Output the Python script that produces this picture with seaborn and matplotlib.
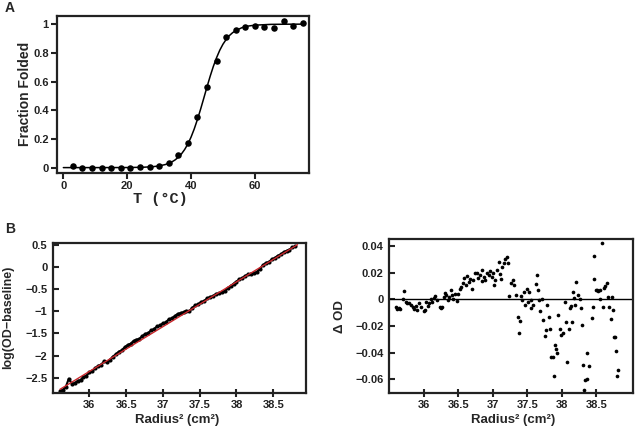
import matplotlib.pyplot as plt
import numpy as np
import pandas as pd
import seaborn as sns
from matplotlib.ticker import FuncFormatter

sns.set_style(style='ticks')
plt.rcParams['font.family'] = ['Liberation Sans', 'DejaVu Sans']
plt.rcParams['font.weight'] = 'bold'
plt.rcParams['axes.linewidth'] = 1.6
plt.rcParams['axes.edgecolor'] = '#222222'
plt.rcParams['xtick.color'] = '#222222'
plt.rcParams['ytick.color'] = '#222222'

# panel A: thermal melt
temp = [3, 6, 9, 12, 15, 18, 21, 24, 27, 30, 33, 36, 39, 42, 45, 48, 51, 54,
        57, 60, 63, 66, 69, 72, 75]
frac = [0.01, 0.0, -0.002, -0.003, -0.002, -0.002, -0.002, 0.002, 0.005, 0.01,
        0.035, 0.09, 0.17, 0.355, 0.56, 0.745, 0.91, 0.96, 0.98, 0.99, 0.98,
        0.975, 1.025, 0.99, 1.01]
fit_temp = [0, 10, 20, 25, 28, 30, 32, 34, 35, 36, 37, 38, 39, 40, 41, 42, 43,
            44, 45, 46, 47, 48, 49, 50, 51, 52, 53, 54, 56, 58, 60, 65, 70, 75]
fit_frac = [0.0, 0.0, 0.0005, 0.0025, 0.0063, 0.0117, 0.0216, 0.0397, 0.0535,
            0.0716, 0.0953, 0.126, 0.164, 0.212, 0.269, 0.335, 0.407, 0.484,
            0.562, 0.637, 0.706, 0.766, 0.818, 0.860, 0.893, 0.920, 0.940,
            0.955, 0.976, 0.987, 0.993, 0.9985, 0.9997, 1.0]

# panel B left: log(OD - baseline) vs radius^2
trace_r2 = [35.60, 35.64, 35.68, 35.72, 35.76, 35.80, 35.84, 35.88, 35.92, 35.96,
            36.00, 36.04, 36.08, 36.12, 36.16, 36.20, 36.24, 36.28, 36.32, 36.36,
            36.40, 36.44, 36.48, 36.52, 36.56, 36.60, 36.64, 36.68, 36.72, 36.76,
            36.80, 36.84, 36.88, 36.92, 36.96, 37.00, 37.04, 37.08, 37.12, 37.16,
            37.20, 37.24, 37.28, 37.32, 37.36, 37.40, 37.44, 37.48, 37.52, 37.56,
            37.60, 37.64, 37.68, 37.72, 37.76, 37.80, 37.84, 37.88, 37.92, 37.96,
            38.00, 38.04, 38.08, 38.12, 38.16, 38.20, 38.24, 38.28, 38.32, 38.36,
            38.40, 38.44, 38.48, 38.52, 38.56, 38.60, 38.64, 38.68, 38.72, 38.76,
            38.80]
trace_log = [-2.80, -2.77, -2.70, -2.52, -2.63, -2.62, -2.57, -2.55, -2.48, -2.45,
             -2.38, -2.35, -2.28, -2.23, -2.20, -2.13, -2.15, -2.09, -2.02, -1.97,
             -1.91, -1.88, -1.81, -1.76, -1.73, -1.67, -1.64, -1.62, -1.56, -1.51,
             -1.49, -1.43, -1.40, -1.34, -1.32, -1.27, -1.25, -1.18, -1.16, -1.11,
             -1.06, -1.04, -1.02, -0.99, -1.00, -0.92, -0.87, -0.84, -0.79, -0.77,
             -0.71, -0.68, -0.66, -0.61, -0.60, -0.57, -0.54, -0.48, -0.43, -0.38,
             -0.33, -0.28, -0.25, -0.20, -0.17, -0.15, -0.14, -0.11, -0.04, 0.04,
             0.09, 0.11, 0.17, 0.20, 0.25, 0.28, 0.33, 0.36, 0.39, 0.44,
             0.46]
fit_r2 = [35.60, 38.83]
fit_log = [-2.76, 0.50]

# panel B right: residuals
resid_r2 = [35.60, 35.62, 35.64, 35.66, 35.70, 35.72, 35.74, 35.76, 35.79, 35.82,
            35.84, 35.86, 35.89, 35.91, 35.93, 35.96, 36.00, 36.02, 36.04, 36.06,
            36.08, 36.10, 36.12, 36.145, 36.17, 36.19, 36.24, 36.25, 36.27, 36.29,
            36.31, 36.33, 36.35, 36.37, 36.39, 36.41, 36.43, 36.45, 36.48, 36.50,
            36.52, 36.54, 36.57, 36.59, 36.61, 36.63, 36.65, 36.67, 36.70, 36.72,
            36.75, 36.77, 36.79, 36.82, 36.84, 36.85, 36.87, 36.89, 36.92, 36.94,
            36.96, 36.99, 37.00, 37.02, 37.04, 37.06, 37.09, 37.11, 37.12, 37.14,
            37.16, 37.18, 37.21, 37.22,
            37.24, 37.26, 37.29, 37.31, 37.34, 37.36, 37.38, 37.40, 37.41, 37.43,
            37.45, 37.47, 37.49, 37.51, 37.53, 37.55, 37.56, 37.58, 37.62, 37.64,
            37.65, 37.67, 37.69, 37.71, 37.73, 37.75, 37.77, 37.79, 37.81, 37.83,
            37.84, 37.87, 37.88, 37.90, 37.92, 37.93, 37.95, 37.97, 37.99, 38.01,
            38.04, 38.06, 38.08, 38.10, 38.12, 38.13, 38.15, 38.16, 38.18, 38.19,
            38.21, 38.23, 38.26, 38.28, 38.29, 38.31, 38.32, 38.34, 38.36, 38.37,
            38.40, 38.43, 38.45, 38.46, 38.47, 38.49, 38.51, 38.53, 38.55, 38.56,
            38.575, 38.59, 38.61, 38.63, 38.65, 38.67, 38.69, 38.71, 38.73, 38.74,
            38.75, 38.77, 38.79, 38.80, 38.81]
resid_od = [-0.006, -0.0075, -0.0065, -0.0075, 0.0, 0.006, -0.002, -0.003, -0.0025, -0.004,
            -0.006, -0.0075, -0.005, -0.008, -0.003, -0.006, -0.0085, -0.008, -0.002, -0.005,
            -0.003, 0.0, -0.002, 0.001, 0.0025, -0.0005, -0.006, -0.0065, -0.006, 0.002,
            0.0045, 0.003, -0.0005, 0.0015, 0.007, 0.003, 0.0005, 0.004, -0.001, 0.004,
            0.008, 0.0095, 0.012, 0.016, 0.011, 0.0175, 0.013, 0.015, 0.008, 0.0145,
            0.020, 0.0195, 0.016, 0.018, 0.014, 0.022, 0.017, 0.0145, 0.0195, 0.018,
            0.021, 0.017, 0.0195, 0.011, 0.0145, 0.022, 0.028, 0.019, 0.0155, 0.0245,
            0.027, 0.030, 0.0315, 0.027,
            0.0025, 0.0125, 0.0145, 0.011, 0.003, -0.013, -0.025, -0.016, 0.0025, -0.0005,
            0.0055, -0.004, 0.008, -0.002, 0.0055, -0.0005, -0.0065, -0.004, 0.0115, 0.018,
            0.007, -0.0005, -0.009, 0.0, -0.0155, -0.0275, -0.023, -0.0043, -0.013, -0.022,
            -0.043, -0.0435, -0.0575, -0.034, -0.037, -0.0405, -0.0118, -0.022, -0.027, -0.025,
            -0.0018, -0.0168, -0.047, -0.022, -0.0068, -0.005, -0.0168, 0.0057, 0.0007, -0.004,
            0.013, 0.003, 0.0, -0.0068, -0.019, -0.049, -0.068, -0.0605, -0.060, -0.040,
            -0.050, -0.014, -0.006, 0.015, 0.0325, 0.007, 0.007, 0.0065, 0.007, 0.0,
            0.042, -0.006, 0.0085, 0.010, 0.012, 0.002, -0.006, -0.015, 0.002, -0.008,
            -0.028, -0.0285, -0.0385, -0.0575, -0.053]


def fmt(v, pos):
    return ('%g' % v).replace('-', '\u2212')


fig = plt.figure(figsize=(6.4, 4.28), dpi=100)
ax_a = fig.add_axes([0.089, 0.596, 0.394, 0.367])
ax_b = fig.add_axes([0.083, 0.082, 0.395, 0.351])
ax_c = fig.add_axes([0.608, 0.081, 0.381, 0.360])

# A
sns.lineplot(x=fit_temp, y=fit_frac, color='black', lw=1.1, errorbar=None, ax=ax_a)
sns.scatterplot(x=temp, y=frac, color='black', s=22, edgecolor='black',
                linewidth=0, zorder=3, ax=ax_a)
ax_a.set_xlim(-2, 77)
ax_a.set_ylim(-0.037, 1.058)
ax_a.set_xticks([0, 20, 40, 60])
ax_a.set_yticks([0, 0.2, 0.4, 0.6, 0.8, 1])
ax_a.yaxis.set_major_formatter(FuncFormatter(fmt))
ax_a.tick_params(direction='out', labelsize=8, width=1.5, length=4, pad=2)
ax_a.set_ylabel('Fraction Folded', fontsize=10, fontweight='bold')
ax_a.set_xlabel('T (\u00b0C)', fontsize=11, fontweight='bold',
                family=['Liberation Mono', 'DejaVu Sans Mono'])
ax_a.yaxis.set_label_coords(-0.127, 0.5)
ax_a.xaxis.set_label_coords(0.41, -0.165)
ax_a.xaxis.label.set_va('center')
ax_a.yaxis.label.set_va('center')

# B left
sns.lineplot(x=trace_r2, y=trace_log, color='black', lw=1.5, marker='o',
             markersize=3, markeredgewidth=0, errorbar=None, ax=ax_b)
sns.lineplot(x=fit_r2, y=fit_log, color='#c8282d', lw=1.0, errorbar=None,
             zorder=4, ax=ax_b)
ax_b.set_xlim(35.507, 38.944)
ax_b.set_ylim(-2.84, 0.545)
ax_b.set_xticks([36, 36.5, 37, 37.5, 38, 38.5])
ax_b.set_yticks([0.5, 0, -0.5, -1, -1.5, -2, -2.5])
ax_b.xaxis.set_major_formatter(FuncFormatter(fmt))
ax_b.yaxis.set_major_formatter(FuncFormatter(fmt))
ax_b.tick_params(axis='x', direction='inout', labelsize=8, width=1.5, length=6, pad=2)
ax_b.tick_params(axis='y', direction='in', labelsize=8, width=1.5, length=4, pad=4)
ax_b.set_ylabel('log(OD\u2212baseline)', fontsize=9, fontweight='bold')
ax_b.set_xlabel('Radius\u00b2 (cm\u00b2)', fontsize=9.5, fontweight='bold')
ax_b.yaxis.set_label_coords(-0.178, 0.5)
ax_b.xaxis.set_label_coords(0.49, -0.18)
ax_b.xaxis.label.set_va('center')
ax_b.yaxis.label.set_va('center')

# B right
ax_c.axhline(0, color='black', lw=1.0, zorder=1)
sns.scatterplot(x=resid_r2, y=resid_od, color='black', s=7, linewidth=0,
                zorder=3, ax=ax_c)
ax_c.set_xlim(35.5, 39.03)
ax_c.set_ylim(-0.0705, 0.045)
ax_c.set_xticks([36, 36.5, 37, 37.5, 38, 38.5])
ax_c.set_yticks([0.04, 0.02, 0, -0.02, -0.04, -0.06])
ax_c.xaxis.set_major_formatter(FuncFormatter(fmt))
ax_c.yaxis.set_major_formatter(FuncFormatter(fmt))
ax_c.tick_params(axis='x', direction='inout', labelsize=8, width=1.5, length=6, pad=2)
ax_c.tick_params(axis='y', direction='in', labelsize=8, width=1.5, length=4, pad=4)
ax_c.set_ylabel('\u0394 OD', fontsize=9.5, fontweight='bold')
ax_c.set_xlabel('Radius\u00b2 (cm\u00b2)', fontsize=9.5, fontweight='bold')
ax_c.yaxis.set_label_coords(-0.20, 0.5)
ax_c.xaxis.set_label_coords(0.508, -0.173)
ax_c.xaxis.label.set_va('center')
ax_c.yaxis.label.set_va('center')

for ax in (ax_a, ax_b, ax_c):
    for s in ax.spines.values():
        s.set_visible(True)

fig.text(0.008, 0.981, 'A', fontsize=10, fontweight='bold', va='center')
fig.text(0.008, 0.465, 'B', fontsize=10, fontweight='bold', va='center')

fig.savefig('out.png', dpi=100)
